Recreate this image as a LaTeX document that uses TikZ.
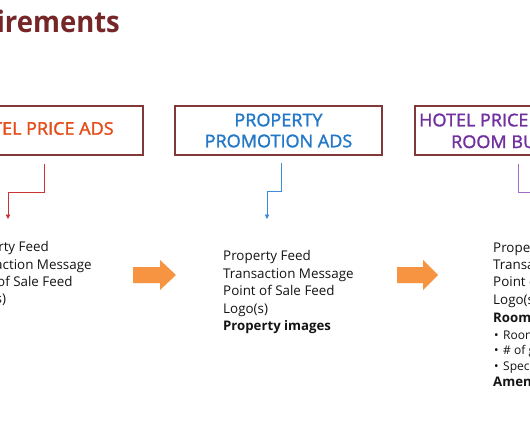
\documentclass[tikz,border=0pt]{standalone}
\usepackage{fontspec}
\setmainfont{Open Sans}
\newfontfamily\titlefont[FakeStretch=0.93]{Open Sans}
\newfontfamily\boxfontfam[FakeBold=1.6,FakeStretch=1.03]{Open Sans}
\usetikzlibrary{arrows.meta}
\definecolor{titlered}{RGB}{118,38,38}
\definecolor{boxc}{RGB}{128,56,56}
\definecolor{t1}{RGB}{228,76,24}
\definecolor{t2}{RGB}{36,120,200}
\definecolor{t3}{RGB}{112,48,160}
\definecolor{k1}{RGB}{204,50,50}
\definecolor{k2}{RGB}{60,140,215}
\definecolor{k3}{RGB}{160,110,200}
\definecolor{orng}{RGB}{247,148,66}
\definecolor{bodyc}{RGB}{20,20,20}
\tikzset{
  box/.style={draw=boxc, line width=1.2pt, minimum width=207pt, minimum height=49pt, inner sep=0pt},
  boxfont/.style={font=\boxfontfam\fontsize{17.5}{21}\selectfont},
  boxline/.style={anchor=base west, inner sep=0pt, boxfont},
  conn/.style={line width=0.8pt, -{Triangle[length=4.5pt,width=4.5pt]}},
  item/.style={anchor=base west, inner sep=0pt, text=bodyc, font=\fontsize{13.4}{16}\selectfont},
  bitem/.style={item, font=\fontsize{13.2}{16}\selectfont\bfseries},
  sitem/.style={item, font=\fontsize{12}{14}\selectfont},
  bigarrow/.style={fill=orng}
}
\begin{document}
\begin{tikzpicture}[x=1pt,y=-1pt]
\useasboundingbox (0,0) rectangle (530,442);
\fill[white] (0,0) rectangle (530,442);
\clip (0,0) rectangle (530,442);
% title
\node[anchor=base east, inner sep=0pt, text=titlered, font=\titlefont\fontsize{29.5}{34}\selectfont\bfseries] (title) at (120,32) {Requirements};
% boxes
\node[box] (b1) at (39.5,130.5) {};
\node[boxfont, anchor=base, inner sep=0pt, text=t1] (b1t) at (39.5,134.7) {HOTEL PRICE ADS};
\node[box, boxfont, text=t2, align=center] (b2) at (278.5,130.5) {PROPERTY\\PROMOTION ADS};
\node[box] (b3) at (518.5,130.5) {};
\node[boxline, text=t3] (b3a) at (419,126.3) {HOTEL PRICE ADS +};
\node[boxline, text=t3] (b3b) at (451,148) {ROOM BUNDLES};
% connectors
\coordinate (s1) at (44,164); \coordinate (m1) at (8,192); \coordinate (e1) at (8,219);
\coordinate (s2) at (281,163); \coordinate (m2) at (267,191); \coordinate (e2) at (267,219);
\coordinate (s3) at (518,164); \coordinate (m3) at (560,192); \coordinate (e3) at (560,219);
\draw[conn, k1] (s1) |- (m1) -- (e1);
\draw[conn, k2] (s2) |- (m2) -- (e2);
\draw[conn, k3] (s3) |- (m3) -- (e3);
% orange arrows
\fill[bigarrow] (133,267) -- (160,267) -- (160,260) -- (176,275) -- (160,290) -- (160,283) -- (133,283) -- cycle;
\fill[bigarrow] (397,267) -- (423,267) -- (423,260) -- (438,275) -- (423,290) -- (423,283) -- (397,283) -- cycle;
% column 1
\node[item] (a1) at (-39,251.7) {Property Feed};
\node[item] (a2) at (-39,269) {Transaction Message};
\node[item] (a3) at (-39,286.3) {Point of Sale Feed};
\node[item] (a4) at (-39,303.6) {Logo(s)};
% column 2
\node[item] (p1) at (223,260.7) {Property Feed};
\node[item] (p2) at (223,278.2) {Transaction Message};
\node[item] (p3) at (223,295.7) {Point of Sale Feed};
\node[item] (p4) at (223,313.2) {Logo(s)};
\node[bitem] (p5) at (223,330.7) {Property images};
% column 3
\node[item] (h1) at (493,252) {Property Feed};
\node[item] (h2) at (493,269) {Transaction Message};
\node[item] (h3) at (493,286.7) {Point of Sale Feed};
\node[item] (h4) at (493,304) {Logo(s)};
\node[bitem] (h5) at (493,322.5) {Room bundles};
\node[sitem] (h6) at (494,339) {•\hspace{4.5pt}Room type};
\node[sitem] (h7) at (494,354.7) {•\hspace{4.5pt}\# of guests};
\node[sitem] (h8) at (494,370.3) {•\hspace{4.5pt}Special offers};
\node[bitem] (h9) at (493,386.7) {Amenities};
\end{tikzpicture}
\end{document}
